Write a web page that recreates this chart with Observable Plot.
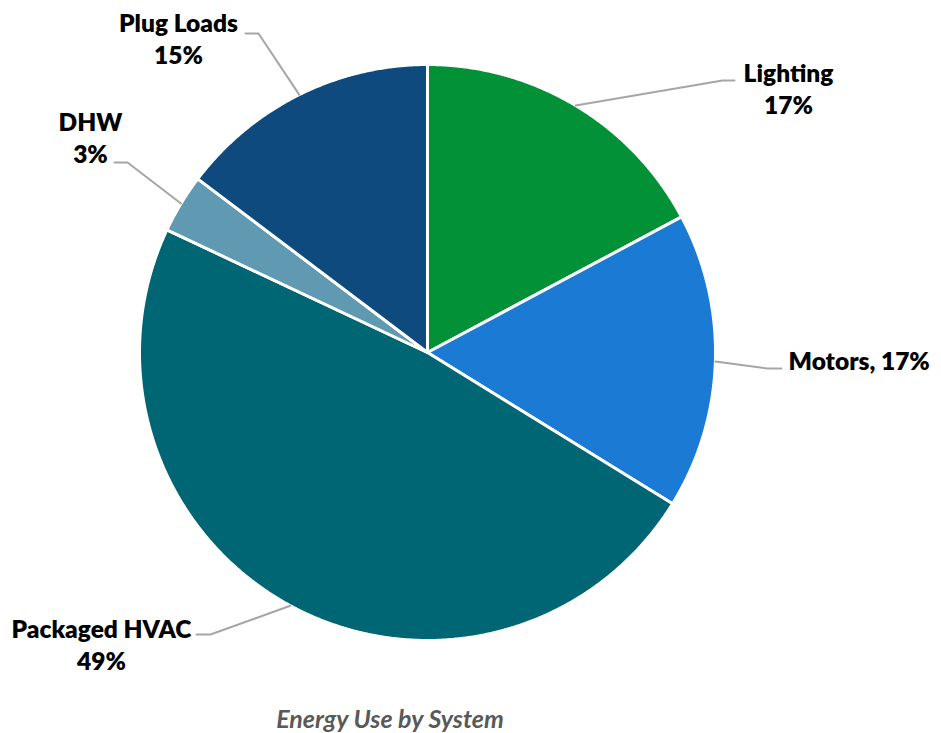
<!DOCTYPE html>
<html><head><meta charset="utf-8">
<script src="https://cdn.jsdelivr.net/npm/d3@7"></script>
<script src="https://cdn.jsdelivr.net/npm/@observablehq/plot@0.6"></script>
<style>
body{margin:0;background:#fff;}
#cap{width:780px;text-align:center;font-family:Lato,"Open Sans",sans-serif;font-style:italic;font-weight:bold;font-size:25px;line-height:30px;color:#595959;padding-top:3px}
</style></head><body><div id="chart"></div><div id="cap">Energy Use by System</div>
<script>
const categories = ["Lighting","Motors","Packaged HVAC","DHW","Plug Loads"];
const shares = [17.2,16.6,48.2,3.3,14.7];
const labelTexts = ["Lighting\n17%","Motors, 17%","Packaged HVAC\n49%","DHW\n3%","Plug Loads\n15%"];
const colors = ["#039137","#1A7AD4","#006673","#5F99B2","#0F4A7E"];

// label layout (pixel positions of leader elbow, leader end, text anchor)
const labelLayout = [
  {elbow:[722,80], end:[734,80], text:[788,87], anchor:"middle"},
  {elbow:[767,368], end:[781,368], text:[788,359], anchor:"start"},
  {elbow:[210,634], end:[196,634], text:[101,643], anchor:"middle"},
  {elbow:[127,162], end:[114,162], text:[90,136], anchor:"middle"},
  {elbow:[258,33], end:[245,33], text:[178,37], anchor:"middle"}
];

const W = 941, H = 700, CX = 427, CY = 352, R = 288;
const ux = px => (px - CX) / R, uy = py => (CY - py) / R;

const arcs = d3.pie().sort(null).value(d => d)(shares);
const slicePts = [];
arcs.forEach((a, i) => {
  slicePts.push({name: categories[i], x: 0, y: 0});
  const n = Math.max(4, Math.ceil((a.endAngle - a.startAngle) / 0.005));
  for (let k = 0; k <= n; k++) {
    const t = a.startAngle + (a.endAngle - a.startAngle) * k / n;
    slicePts.push({name: categories[i], x: Math.sin(t), y: Math.cos(t)});
  }
});

const leaderPts = [];
const textPts = [];
arcs.forEach((a, i) => {
  const m = (a.startAngle + a.endAngle) / 2;
  const L = labelLayout[i];
  leaderPts.push({name: categories[i], x: Math.sin(m), y: Math.cos(m)});
  leaderPts.push({name: categories[i], x: ux(L.elbow[0]), y: uy(L.elbow[1])});
  leaderPts.push({name: categories[i], x: ux(L.end[0]), y: uy(L.end[1])});
  textPts.push({name: categories[i], label: labelTexts[i], x: ux(L.text[0]), y: uy(L.text[1]), anchor: L.anchor});
});

const textStyle = {x: "x", y: "y", text: "label", fontSize: 24.5, fontWeight: 800, fontFamily: "Lato, 'Open Sans', sans-serif", fill: "black", lineHeight: 1.3};
const chart = Plot.plot({
  width: W, height: H, margin: 0,
  x: {domain: [ux(0), ux(W)], axis: null},
  y: {domain: [uy(H), uy(0)], axis: null},
  color: {domain: categories, range: colors},
  marks: [
    Plot.line(slicePts, {x: "x", y: "y", z: "name", fill: "name", stroke: "white", strokeWidth: 3, strokeLinejoin: "round", curve: "linear-closed"}),
    Plot.line(leaderPts, {x: "x", y: "y", z: "name", stroke: "#A6A6A6", strokeWidth: 2}),
    Plot.text(textPts.filter(d => d.anchor === "middle"), {...textStyle, textAnchor: "middle"}),
    Plot.text(textPts.filter(d => d.anchor === "start"), {...textStyle, textAnchor: "start"})
  ]
});
document.getElementById("chart").appendChild(chart);
</script>
</body></html>
